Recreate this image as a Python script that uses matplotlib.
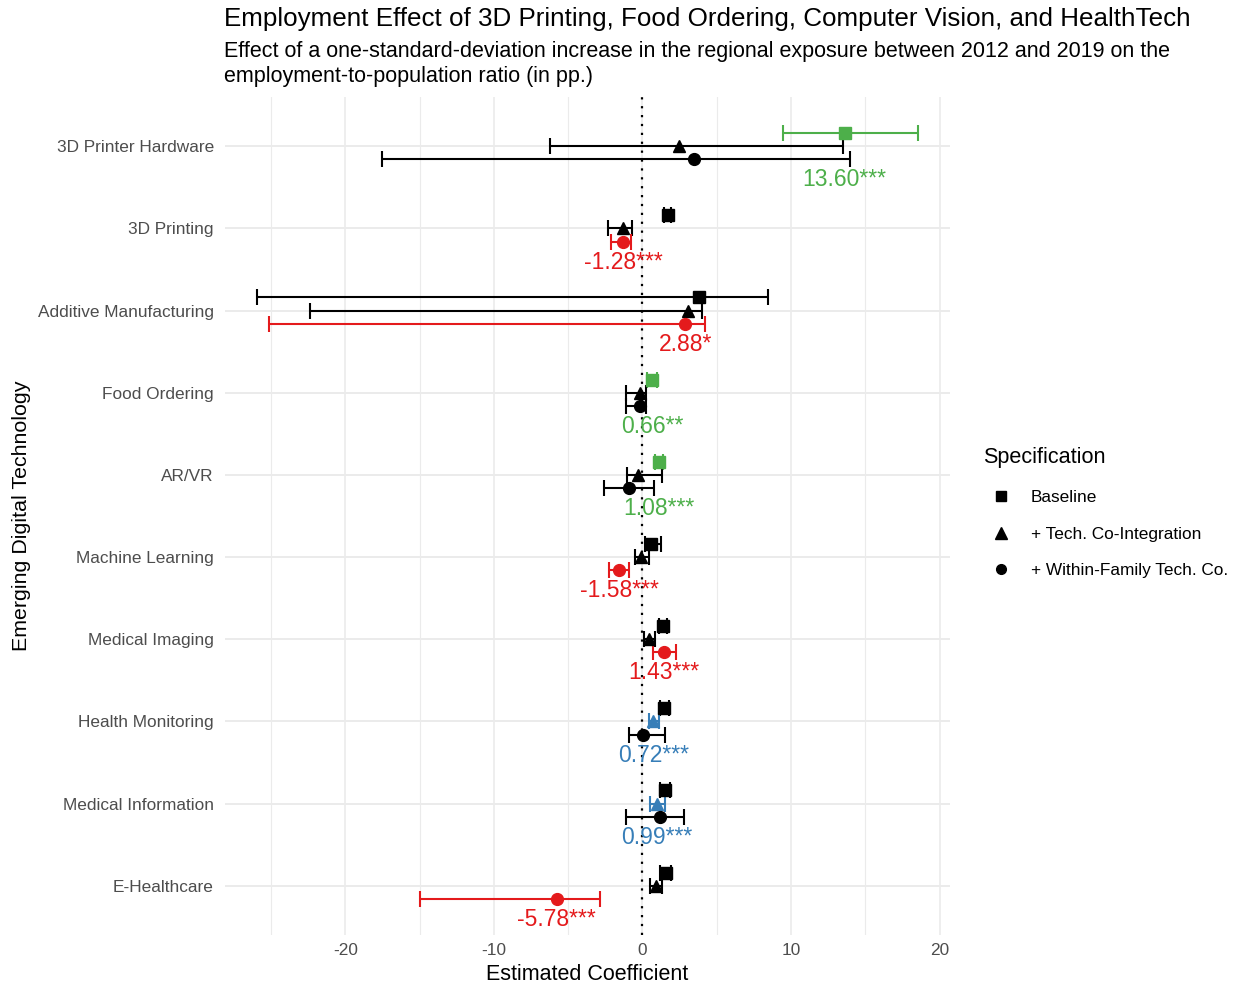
import numpy as np
import matplotlib
matplotlib.use("Agg")
import matplotlib.pyplot as plt
from matplotlib.lines import Line2D

plt.rcParams['font.family'] = ['Liberation Sans', 'DejaVu Sans']
plt.rcParams['axes.unicode_minus'] = False

techs = ["3D Printer Hardware", "3D Printing", "Additive Manufacturing", "Food Ordering", "AR/VR",
         "Machine Learning", "Medical Imaging", "Health Monitoring", "Medical Information", "E-Healthcare"]

# baseline (square)
base_est = [13.60, 1.70, 3.82, 0.66, 1.08, 0.58, 1.37, 1.48, 1.50, 1.59]
base_lo = [9.44, 1.45, -25.92, 0.30, 0.81, 0.20, 1.12, 1.17, 1.21, 1.21]
base_hi = [18.52, 1.95, 8.43, 0.99, 1.40, 1.26, 1.62, 1.80, 1.85, 1.95]

# + tech co-integration (triangle)
coint_est = [2.46, -1.32, 3.09, -0.18, -0.29, -0.13, 0.42, 0.72, 0.99, 0.88]
coint_lo = [-6.24, -2.31, -22.37, -1.08, -1.03, -0.47, 0.09, 0.43, 0.49, 0.54]
coint_hi = [13.50, -0.69, 3.98, 0.27, 1.32, 0.47, 0.81, 1.10, 1.55, 1.32]

# + within-family tech co. (circle)
within_est = [3.44, -1.28, 2.88, -0.18, -0.92, -1.58, 1.43, 0.02, 1.17, -5.78]
within_lo = [-17.54, -2.11, -25.16, -1.08, -2.56, -2.27, 0.72, -0.92, -1.08, -14.99]
within_hi = [13.98, -0.75, 4.23, 0.27, 0.76, -0.92, 2.27, 1.55, 2.78, -2.87]

# which spec is highlighted per row, and its label
highlight = ["base", "within", "within", "base", "base", "within", "within", "coint", "coint", "within"]
labels = ["13.60***", "-1.28***", "2.88*", "0.66**", "1.08***", "-1.58***", "1.43***", "0.72***", "0.99***", "-5.78***"]

colors = {"base": "#4DAF4A", "coint": "#377EB8", "within": "#E41A1C"}
specs = [("base", base_est, base_lo, base_hi, "s", -0.16, 8),
         ("coint", coint_est, coint_lo, coint_hi, "^", 0.0, 9),
         ("within", within_est, within_lo, within_hi, "o", 0.16, 8.5)]

fig = plt.figure(figsize=(12.39, 9.85), dpi=100)
ax = fig.add_axes([225/1239, 1-935/985, (950-225)/1239, (935-97)/985])

ypos = np.arange(len(techs))
ax.set_ylim(len(techs) - 0.4, -0.6)
ax.set_xlim(-28.1, 20.7)

for x in [-25, -20, -15, -10, -5, 0, 5, 10, 15, 20]:
    ax.axvline(x, color="#EBEBEB", lw=1.2 if x % 10 == 0 else 0.8, zorder=0)
for y in ypos:
    ax.axhline(y, color="#EBEBEB", lw=1.4, zorder=0)

ax.axvline(0, color="black", lw=1.6, ls=(0, (1, 3)), zorder=1)

for key, est, lo, hi, mk, off, ms in specs:
    for i in range(len(techs)):
        c = colors[key] if highlight[i] == key else "black"
        ax.errorbar(est[i], i + off, xerr=[[est[i] - lo[i]], [hi[i] - est[i]]], fmt=mk, color=c,
                    ms=ms, lw=1.5, capsize=6, capthick=1.5, zorder=3)

for i in range(len(techs)):
    key = highlight[i]
    est = {"base": base_est, "coint": coint_est, "within": within_est}[key][i]
    ax.text(est, i + 0.41, labels[i], color=colors[key], fontsize=16.5, ha="center", va="center", zorder=4)

ax.set_yticks(ypos)
ax.set_yticklabels(techs)
ax.set_xticks([-20, -10, 0, 10, 20])
ax.tick_params(axis="both", length=0, labelsize=12.4, labelcolor="#4D4D4D")
ax.tick_params(axis="y", pad=8)
ax.tick_params(axis="x", pad=6)
for s in ax.spines.values():
    s.set_visible(False)

ax.set_xlabel("Estimated Coefficient", fontsize=15.5, labelpad=4)
ax.set_ylabel("Emerging Digital Technology", fontsize=15.4, va="center")
ax.yaxis.set_label_coords((22 - 225) / 725, (935 - 516) / 838)

fig.text(224/1239, 1-19/985, "Employment Effect of 3D Printing, Food Ordering, Computer Vision, and HealthTech",
         fontsize=18.7, ha="left", va="center")
fig.text(224/1239, 1-64/985,
         "Effect of a one-standard-deviation increase in the regional exposure between 2012 and 2019 on the\n"
         "employment-to-population ratio (in pp.)",
         fontsize=15.5, ha="left", va="center", linespacing=1.2)

handles = [Line2D([], [], marker="s", color="black", ls="none", ms=7),
           Line2D([], [], marker="^", color="black", ls="none", ms=8),
           Line2D([], [], marker="o", color="black", ls="none", ms=7)]
fig.legend(handles, ["Baseline", "+ Tech. Co-Integration", "+ Within-Family Tech. Co."],
           title="Specification", loc="upper left", bbox_to_anchor=(968/1239, 1-432/985),
           frameon=False, fontsize=12.4, title_fontsize=15.6, labelspacing=1.25, handletextpad=0.75,
           alignment="left")

fig.savefig("out.png", dpi=100)
